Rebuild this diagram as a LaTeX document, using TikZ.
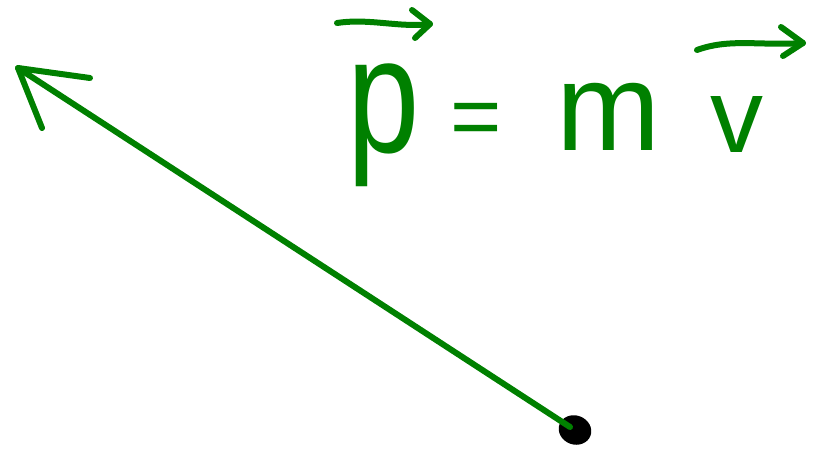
\documentclass[tikz,border=0pt]{standalone}
\usepackage{fontspec}
\setmainfont{Liberation Sans}
\usetikzlibrary{shapes.geometric}
\definecolor{pen}{RGB}{0,128,0}
\begin{document}
\begin{tikzpicture}[x=1pt,y=-1pt,
  stroke/.style={draw=pen,line width=6pt,line cap=round,line join=round},
  glyph/.style={text=pen,inner sep=0pt,anchor=base},
  dotnode/.style={ellipse,fill=black,inner sep=0pt,minimum width=33pt,minimum height=29pt,rotate=-20}]
\useasboundingbox (0,0) rectangle (814,452);
% momentum vector
\node[dotnode] (dot) at (575,430) {};
\coordinate (start) at (570,427);
\coordinate (tip) at (18,68);
\coordinate (h1) at (90,78);
\coordinate (h2) at (42,128);
\draw[stroke] (start) -- (tip);
\draw[stroke] (h1) -- (tip) -- (h2);
% equation
\node[glyph] (p) at (384,152) {\scalebox{1}[1.27]{\fontsize{130}{130}\selectfont p}};
\node[glyph] (eq) at (476,146) {\fontsize{88}{88}\selectfont =};
\node[glyph] (m) at (609,150) {\fontsize{125}{125}\selectfont m};
\node[glyph] (v) at (737,152) {\fontsize{106}{106}\selectfont v};
% vector arrows
\coordinate (pa0) at (337,23);
\coordinate (pa1) at (430,24);
\coordinate (pah1) at (412,10);
\coordinate (pah2) at (415,38);
\draw[stroke] (pa0) .. controls (370,18) and (400,28) .. (pa1);
\draw[stroke] (pah1) -- (pa1) -- (pah2);
\coordinate (va0) at (697,50);
\coordinate (va1) at (803,43);
\coordinate (vah1) at (781,27);
\coordinate (vah2) at (783,56);
\draw[stroke] (va0) .. controls (730,38) and (760,46) .. (va1);
\draw[stroke] (vah1) -- (va1) -- (vah2);
\end{tikzpicture}
\end{document}
